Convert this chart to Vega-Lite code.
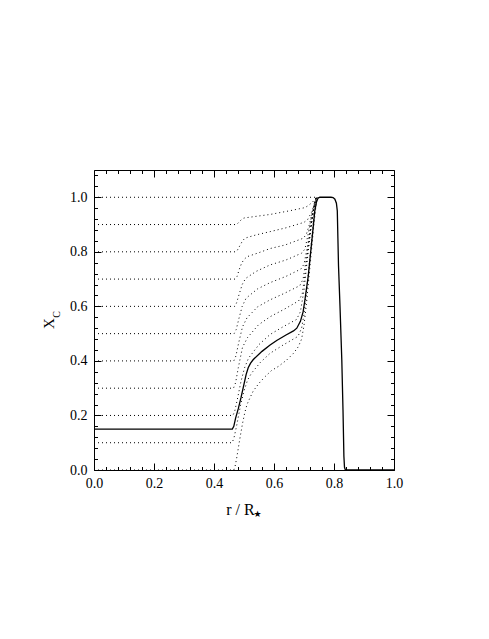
{
  "$schema": "https://vega.github.io/schema/vega-lite/v6.json",
  "width": 300,
  "height": 300,
  "autosize": {"type": "none"},
  "padding": {"left": 94, "top": 170, "right": 95, "bottom": 169},
  "background": "white",
  "config": {
    "view": {"stroke": null},
    "axis": {
      "domainColor": "black", "tickColor": "black", "labelColor": "black", "titleColor": "black",
      "labelFont": "Liberation Serif", "titleFont": "Liberation Serif", "labelFontSize": 14,
      "titleFontWeight": "normal", "grid": false, "labelFlush": false, "labelOverlap": false,
      "labelBound": false, "tickWidth": 1, "domainWidth": 1
    }
  },
  "datasets": {
    "dotted": [
      {"s": "1.0", "x": 0, "y": 1.0}, {"s": "1.0", "x": 0.745, "y": 1.0},
      {"s": "0.9", "x": 0, "y": 0.9}, {"s": "0.9", "x": 0.472, "y": 0.9}, {"s": "0.9", "x": 0.478, "y": 0.903}, {"s": "0.9", "x": 0.486, "y": 0.912}, {"s": "0.9", "x": 0.493, "y": 0.92}, {"s": "0.9", "x": 0.5, "y": 0.924}, {"s": "0.9", "x": 0.54, "y": 0.93}, {"s": "0.9", "x": 0.587, "y": 0.937}, {"s": "0.9", "x": 0.65, "y": 0.95}, {"s": "0.9", "x": 0.703, "y": 0.962}, {"s": "0.9", "x": 0.715, "y": 0.97}, {"s": "0.9", "x": 0.728, "y": 0.982}, {"s": "0.9", "x": 0.737, "y": 0.993}, {"s": "0.9", "x": 0.744, "y": 1.0},
      {"s": "0.8", "x": 0, "y": 0.8}, {"s": "0.8", "x": 0.472, "y": 0.8}, {"s": "0.8", "x": 0.478, "y": 0.806}, {"s": "0.8", "x": 0.487, "y": 0.824}, {"s": "0.8", "x": 0.495, "y": 0.84}, {"s": "0.8", "x": 0.503, "y": 0.85}, {"s": "0.8", "x": 0.54, "y": 0.862}, {"s": "0.8", "x": 0.587, "y": 0.874}, {"s": "0.8", "x": 0.64, "y": 0.888}, {"s": "0.8", "x": 0.7, "y": 0.908}, {"s": "0.8", "x": 0.712, "y": 0.918}, {"s": "0.8", "x": 0.725, "y": 0.945}, {"s": "0.8", "x": 0.735, "y": 0.975}, {"s": "0.8", "x": 0.743, "y": 1.0},
      {"s": "0.7", "x": 0, "y": 0.7}, {"s": "0.7", "x": 0.47, "y": 0.7}, {"s": "0.7", "x": 0.477, "y": 0.71}, {"s": "0.7", "x": 0.484, "y": 0.735}, {"s": "0.7", "x": 0.492, "y": 0.758}, {"s": "0.7", "x": 0.5, "y": 0.772}, {"s": "0.7", "x": 0.51, "y": 0.782}, {"s": "0.7", "x": 0.55, "y": 0.797}, {"s": "0.7", "x": 0.587, "y": 0.812}, {"s": "0.7", "x": 0.637, "y": 0.825}, {"s": "0.7", "x": 0.698, "y": 0.85}, {"s": "0.7", "x": 0.708, "y": 0.865}, {"s": "0.7", "x": 0.718, "y": 0.9}, {"s": "0.7", "x": 0.73, "y": 0.955}, {"s": "0.7", "x": 0.738, "y": 0.99}, {"s": "0.7", "x": 0.743, "y": 1.0},
      {"s": "0.6", "x": 0, "y": 0.6}, {"s": "0.6", "x": 0.469, "y": 0.6}, {"s": "0.6", "x": 0.475, "y": 0.612}, {"s": "0.6", "x": 0.484, "y": 0.645}, {"s": "0.6", "x": 0.494, "y": 0.68}, {"s": "0.6", "x": 0.505, "y": 0.702}, {"s": "0.6", "x": 0.54, "y": 0.728}, {"s": "0.6", "x": 0.587, "y": 0.752}, {"s": "0.6", "x": 0.64, "y": 0.77}, {"s": "0.6", "x": 0.692, "y": 0.795}, {"s": "0.6", "x": 0.703, "y": 0.81}, {"s": "0.6", "x": 0.713, "y": 0.86}, {"s": "0.6", "x": 0.725, "y": 0.93}, {"s": "0.6", "x": 0.735, "y": 0.98}, {"s": "0.6", "x": 0.742, "y": 1.0},
      {"s": "0.5", "x": 0, "y": 0.5}, {"s": "0.5", "x": 0.467, "y": 0.5}, {"s": "0.5", "x": 0.474, "y": 0.515}, {"s": "0.5", "x": 0.483, "y": 0.555}, {"s": "0.5", "x": 0.494, "y": 0.6}, {"s": "0.5", "x": 0.507, "y": 0.63}, {"s": "0.5", "x": 0.545, "y": 0.664}, {"s": "0.5", "x": 0.587, "y": 0.687}, {"s": "0.5", "x": 0.64, "y": 0.71}, {"s": "0.5", "x": 0.69, "y": 0.737}, {"s": "0.5", "x": 0.7, "y": 0.755}, {"s": "0.5", "x": 0.71, "y": 0.81}, {"s": "0.5", "x": 0.722, "y": 0.89}, {"s": "0.5", "x": 0.733, "y": 0.96}, {"s": "0.5", "x": 0.741, "y": 1.0},
      {"s": "0.4", "x": 0, "y": 0.4}, {"s": "0.4", "x": 0.466, "y": 0.4}, {"s": "0.4", "x": 0.473, "y": 0.418}, {"s": "0.4", "x": 0.482, "y": 0.465}, {"s": "0.4", "x": 0.495, "y": 0.525}, {"s": "0.4", "x": 0.51, "y": 0.558}, {"s": "0.4", "x": 0.545, "y": 0.598}, {"s": "0.4", "x": 0.587, "y": 0.624}, {"s": "0.4", "x": 0.635, "y": 0.648}, {"s": "0.4", "x": 0.686, "y": 0.676}, {"s": "0.4", "x": 0.697, "y": 0.7}, {"s": "0.4", "x": 0.707, "y": 0.77}, {"s": "0.4", "x": 0.72, "y": 0.87}, {"s": "0.4", "x": 0.731, "y": 0.95}, {"s": "0.4", "x": 0.74, "y": 1.0},
      {"s": "0.3", "x": 0, "y": 0.3}, {"s": "0.3", "x": 0.465, "y": 0.3}, {"s": "0.3", "x": 0.472, "y": 0.32}, {"s": "0.3", "x": 0.481, "y": 0.375}, {"s": "0.3", "x": 0.495, "y": 0.45}, {"s": "0.3", "x": 0.512, "y": 0.486}, {"s": "0.3", "x": 0.548, "y": 0.532}, {"s": "0.3", "x": 0.587, "y": 0.562}, {"s": "0.3", "x": 0.635, "y": 0.59}, {"s": "0.3", "x": 0.682, "y": 0.62}, {"s": "0.3", "x": 0.694, "y": 0.645}, {"s": "0.3", "x": 0.705, "y": 0.73}, {"s": "0.3", "x": 0.718, "y": 0.85}, {"s": "0.3", "x": 0.73, "y": 0.94}, {"s": "0.3", "x": 0.74, "y": 1.0},
      {"s": "0.2", "x": 0, "y": 0.2}, {"s": "0.2", "x": 0.463, "y": 0.2}, {"s": "0.2", "x": 0.469, "y": 0.215}, {"s": "0.2", "x": 0.478, "y": 0.26}, {"s": "0.2", "x": 0.49, "y": 0.325}, {"s": "0.2", "x": 0.502, "y": 0.375}, {"s": "0.2", "x": 0.515, "y": 0.41}, {"s": "0.2", "x": 0.55, "y": 0.46}, {"s": "0.2", "x": 0.587, "y": 0.497}, {"s": "0.2", "x": 0.63, "y": 0.525}, {"s": "0.2", "x": 0.675, "y": 0.552}, {"s": "0.2", "x": 0.688, "y": 0.58}, {"s": "0.2", "x": 0.7, "y": 0.66}, {"s": "0.2", "x": 0.714, "y": 0.8}, {"s": "0.2", "x": 0.728, "y": 0.93}, {"s": "0.2", "x": 0.738, "y": 0.99}, {"s": "0.2", "x": 0.743, "y": 1.0},
      {"s": "0.1", "x": 0, "y": 0.1}, {"s": "0.1", "x": 0.46, "y": 0.1}, {"s": "0.1", "x": 0.466, "y": 0.115}, {"s": "0.1", "x": 0.475, "y": 0.16}, {"s": "0.1", "x": 0.488, "y": 0.235}, {"s": "0.1", "x": 0.5, "y": 0.29}, {"s": "0.1", "x": 0.512, "y": 0.33}, {"s": "0.1", "x": 0.525, "y": 0.355}, {"s": "0.1", "x": 0.555, "y": 0.395}, {"s": "0.1", "x": 0.587, "y": 0.428}, {"s": "0.1", "x": 0.63, "y": 0.458}, {"s": "0.1", "x": 0.68, "y": 0.49}, {"s": "0.1", "x": 0.692, "y": 0.52}, {"s": "0.1", "x": 0.7, "y": 0.57}, {"s": "0.1", "x": 0.712, "y": 0.69}, {"s": "0.1", "x": 0.725, "y": 0.84}, {"s": "0.1", "x": 0.736, "y": 0.96}, {"s": "0.1", "x": 0.743, "y": 1.0},
      {"s": "0.0", "x": 0, "y": 0}, {"s": "0.0", "x": 0.466, "y": 0}, {"s": "0.0", "x": 0.47, "y": 0.012}, {"s": "0.0", "x": 0.475, "y": 0.04}, {"s": "0.0", "x": 0.481, "y": 0.08}, {"s": "0.0", "x": 0.487, "y": 0.12}, {"s": "0.0", "x": 0.495, "y": 0.17}, {"s": "0.0", "x": 0.503, "y": 0.212}, {"s": "0.0", "x": 0.51, "y": 0.24}, {"s": "0.0", "x": 0.52, "y": 0.265}, {"s": "0.0", "x": 0.531, "y": 0.29}, {"s": "0.0", "x": 0.55, "y": 0.318}, {"s": "0.0", "x": 0.57, "y": 0.342}, {"s": "0.0", "x": 0.592, "y": 0.365}, {"s": "0.0", "x": 0.615, "y": 0.38}, {"s": "0.0", "x": 0.642, "y": 0.403}, {"s": "0.0", "x": 0.665, "y": 0.428}, {"s": "0.0", "x": 0.681, "y": 0.452}, {"s": "0.0", "x": 0.692, "y": 0.48}, {"s": "0.0", "x": 0.7, "y": 0.53}, {"s": "0.0", "x": 0.71, "y": 0.63}, {"s": "0.0", "x": 0.722, "y": 0.77}, {"s": "0.0", "x": 0.733, "y": 0.9}, {"s": "0.0", "x": 0.74, "y": 0.97}, {"s": "0.0", "x": 0.745, "y": 1.0}
    ],
    "solid": [
      {"x": 0, "y": 0.15}, {"x": 0.461, "y": 0.15}, {"x": 0.466, "y": 0.16}, {"x": 0.472, "y": 0.19}, {"x": 0.481, "y": 0.225}, {"x": 0.49, "y": 0.265}, {"x": 0.498, "y": 0.305}, {"x": 0.507, "y": 0.35}, {"x": 0.514, "y": 0.375}, {"x": 0.522, "y": 0.392}, {"x": 0.531, "y": 0.405}, {"x": 0.56, "y": 0.435}, {"x": 0.587, "y": 0.458}, {"x": 0.609, "y": 0.475}, {"x": 0.64, "y": 0.495}, {"x": 0.665, "y": 0.51}, {"x": 0.676, "y": 0.52}, {"x": 0.688, "y": 0.545}, {"x": 0.697, "y": 0.58}, {"x": 0.703, "y": 0.623}, {"x": 0.714, "y": 0.71}, {"x": 0.727, "y": 0.85}, {"x": 0.736, "y": 0.95}, {"x": 0.742, "y": 0.985}, {"x": 0.747, "y": 0.997}, {"x": 0.753, "y": 1.0}, {"x": 0.79, "y": 1.0}, {"x": 0.797, "y": 0.999}, {"x": 0.803, "y": 0.993}, {"x": 0.808, "y": 0.978}, {"x": 0.811, "y": 0.95}, {"x": 0.813, "y": 0.85}, {"x": 0.815, "y": 0.75}, {"x": 0.82, "y": 0.6}, {"x": 0.826, "y": 0.403}, {"x": 0.83, "y": 0.22}, {"x": 0.833, "y": 0.05}, {"x": 0.835, "y": 0.01}, {"x": 0.838, "y": 0}, {"x": 1.0, "y": 0}
    ],
    "subC": [{"label": "C"}],
    "star": [{"label": "★"}]
  },
  "layer": [
    {
      "data": {"name": "dotted"},
      "mark": {"type": "line", "color": "black", "strokeWidth": 1, "strokeDash": [1, 3]},
      "encoding": {
        "x": {
          "field": "x", "type": "quantitative",
          "scale": {"domain": [0, 1], "nice": false, "zero": false},
          "axis": {
            "orient": "bottom",
            "values": [0, 0.04, 0.08, 0.12, 0.16, 0.2, 0.24, 0.28, 0.32, 0.36, 0.4, 0.44, 0.48, 0.52, 0.56, 0.6, 0.64, 0.68, 0.72, 0.76, 0.8, 0.84, 0.88, 0.92, 0.96, 1.0],
            "tickSize": {"condition": {"test": "abs(datum.value*5-round(datum.value*5))<0.01", "value": -7}, "value": -3.5},
            "labelExpr": "abs(datum.value*5-round(datum.value*5))<0.01 ? format(datum.value,'.1f') : ''",
            "labelPadding": 13.5,
            "title": "r / R", "titleFontSize": 16, "titleX": 146, "titleY": 44,
            "titleBaseline": "alphabetic", "titleAlign": "center"
          }
        },
        "y": {
          "field": "y", "type": "quantitative",
          "scale": {"domain": [0, 1.1], "nice": false, "zero": false},
          "axis": {
            "orient": "left",
            "values": [0, 0.04, 0.08, 0.12, 0.16, 0.2, 0.24, 0.28, 0.32, 0.36, 0.4, 0.44, 0.48, 0.52, 0.56, 0.6, 0.64, 0.68, 0.72, 0.76, 0.8, 0.84, 0.88, 0.92, 0.96, 1.0, 1.04, 1.08],
            "tickSize": {"condition": {"test": "abs(datum.value*5-round(datum.value*5))<0.01", "value": -7}, "value": -3.5},
            "labelExpr": "abs(datum.value*5-round(datum.value*5))<0.01 ? format(datum.value,'.1f') : ''",
            "labelPadding": 14,
            "title": "X", "titleFontSize": 15, "titleX": -41, "titleY": 153, "titleAngle": 270,
            "titleBaseline": "alphabetic", "titleAlign": "center"
          }
        },
        "detail": {"field": "s", "type": "nominal"}
      }
    },
    {
      "data": {"name": "solid"},
      "mark": {"type": "line", "color": "black", "strokeWidth": 1.3},
      "encoding": {
        "x": {
          "field": "x", "type": "quantitative",
          "scale": {"domain": [0, 1], "nice": false, "zero": false},
          "axis": {
            "orient": "top", "labels": false, "title": null,
            "values": [0, 0.04, 0.08, 0.12, 0.16, 0.2, 0.24, 0.28, 0.32, 0.36, 0.4, 0.44, 0.48, 0.52, 0.56, 0.6, 0.64, 0.68, 0.72, 0.76, 0.8, 0.84, 0.88, 0.92, 0.96, 1.0],
            "tickSize": {"condition": {"test": "abs(datum.value*5-round(datum.value*5))<0.01", "value": -7}, "value": -3.5}
          }
        },
        "y": {
          "field": "y", "type": "quantitative",
          "scale": {"domain": [0, 1.1], "nice": false, "zero": false},
          "axis": {
            "orient": "right", "labels": false, "title": null,
            "values": [0, 0.04, 0.08, 0.12, 0.16, 0.2, 0.24, 0.28, 0.32, 0.36, 0.4, 0.44, 0.48, 0.52, 0.56, 0.6, 0.64, 0.68, 0.72, 0.76, 0.8, 0.84, 0.88, 0.92, 0.96, 1.0, 1.04, 1.08],
            "tickSize": {"condition": {"test": "abs(datum.value*5-round(datum.value*5))<0.01", "value": -7}, "value": -3.5}
          }
        }
      }
    },
    {
      "data": {"name": "subC"},
      "mark": {"type": "text", "font": "Liberation Serif", "fontSize": 10, "angle": 270, "align": "center", "baseline": "middle", "color": "black"},
      "encoding": {
        "x": {"datum": -0.123, "type": "quantitative", "scale": {"domain": [0, 1], "nice": false, "zero": false}, "axis": null},
        "y": {"datum": 0.57, "type": "quantitative", "scale": {"domain": [0, 1.1], "nice": false, "zero": false}, "axis": null},
        "text": {"field": "label"}
      }
    },
    {
      "data": {"name": "star"},
      "mark": {"type": "text", "font": "DejaVu Sans", "fontSize": 9, "align": "center", "baseline": "middle", "color": "black"},
      "encoding": {
        "x": {"datum": 0.545, "type": "quantitative", "scale": {"domain": [0, 1], "nice": false, "zero": false}, "axis": null},
        "y": {"datum": -0.16, "type": "quantitative", "scale": {"domain": [0, 1.1], "nice": false, "zero": false}, "axis": null},
        "text": {"field": "label"}
      }
    }
  ],
  "resolve": {"axis": {"x": "independent", "y": "independent"}}
}
